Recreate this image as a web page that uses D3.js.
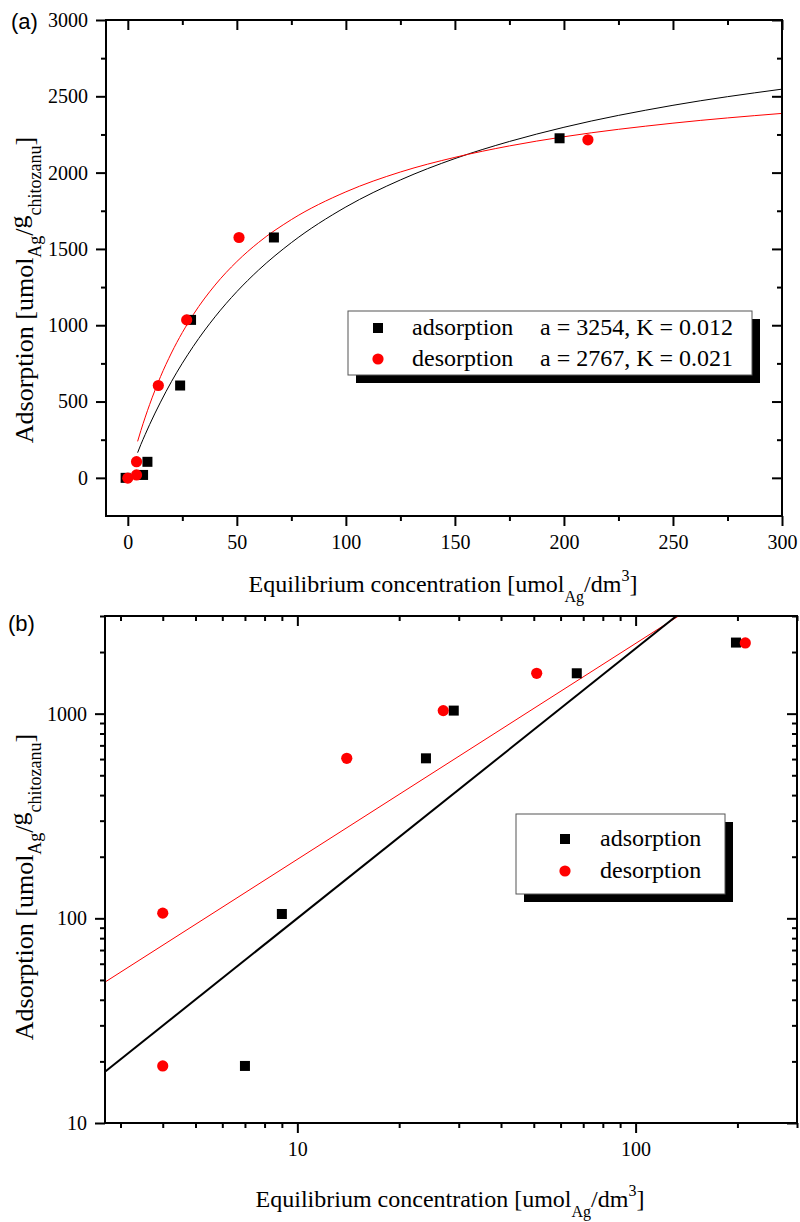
<!DOCTYPE html>
<html>
<head>
<meta charset="utf-8">
<script src="https://cdn.jsdelivr.net/npm/d3@7"></script>
<style>
  body { margin: 0; background: #fff; }
  svg text { font-family: "Liberation Serif", "DejaVu Serif", serif; fill: #000; }
  svg text.tag { font-family: "Liberation Sans", Arial, sans-serif; }
</style>
</head>
<body>
<div id="chart"></div>
<script>
var adsConc = [-1, 7, 9, 24, 29, 67, 198];
var adsAmount = [0, 19, 105, 605, 1035, 1575, 2225];
var desConc = [0, 4, 4, 14, 27, 51, 211];
var desAmount = [-2, 19, 106, 605, 1035, 1575, 2215];

// isotherm fit curves in panel (a)
var fitConc = [4.5, 6, 8, 10, 15, 20, 30, 40, 50, 60, 75, 100, 125, 150, 175, 200, 250, 300];
var fitAds = [165, 219, 285, 349, 496, 630, 861, 1055, 1220, 1362, 1541, 1775, 1952, 2092, 2204, 2297, 2441, 2547];
var fitDes = [239, 310, 398, 480, 663, 818, 1069, 1263, 1417, 1543, 1692, 1874, 2004, 2100, 2175, 2235, 2324, 2388];

// straight fits in panel (b), end points
var logFitAdsConc = [2.7, 132];
var logFitAdsAmount = [17.8, 3000];
var logFitDesConc = [2.7, 134];
var logFitDesAmount = [48.8, 3000];

// ticks
var linXTicks = [0, 50, 100, 150, 200, 250, 300];
var linXMinor = [25, 75, 125, 175, 225, 275];
var linYTicks = [0, 500, 1000, 1500, 2000, 2500, 3000];
var linYMinor = [250, 750, 1250, 1750, 2250, 2750];
var logXTicks = [10, 100];
var logXMinor = [3, 4, 5, 6, 7, 8, 9, 20, 30, 40, 50, 60, 70, 80, 90, 200, 300];
var logYTicks = [10, 100, 1000];
var logYMinor = [20, 30, 40, 50, 60, 70, 80, 90, 200, 300, 400, 500, 600, 700, 800, 900, 2000, 3000];

var seriesNames = ["adsorption", "desorption"];
var fitParams = ["a = 3254, K = 0.012", "a = 2767, K = 0.021"];
var seriesColors = ["#000000", "#ff0000"];

var serif = "'Liberation Serif', 'DejaVu Serif', serif";

var W = 800, H = 1222;
var svg = d3.select("#chart").append("svg")
  .attr("width", W)
  .attr("height", H);

// zip two arrays into points
function pts(xs, ys) {
  return xs.map(function (d, i) { return [d, ys[i]]; });
}

// frame + ticks on all four sides (bottom/left outward, top/right inward)
function drawAxes(g, x, y, w, h, xt, xm, yt, ym, fmt) {
  function style(a) {
    a.attr("font-family", serif);
    a.select(".domain").remove();
    a.selectAll(".tick line").attr("stroke", "#000").attr("stroke-width", 2);
    a.selectAll(".tick text")
      .style("font-family", serif)
      .attr("font-size", "20px")
      .attr("fill", "#000");
  }
  g.append("g").attr("transform", "translate(0," + h + ")")
    .call(d3.axisBottom(x).tickValues(xt).tickSize(10).tickPadding(9).tickFormat(fmt)).call(style);
  g.append("g").attr("transform", "translate(0," + h + ")")
    .call(d3.axisBottom(x).tickValues(xm).tickSize(5).tickFormat("")).call(style);
  g.append("g")
    .call(d3.axisTop(x).tickValues(xt).tickSize(-10).tickFormat("")).call(style);
  g.append("g")
    .call(d3.axisTop(x).tickValues(xm).tickSize(-5).tickFormat("")).call(style);
  g.append("g")
    .call(d3.axisLeft(y).tickValues(yt).tickSize(10).tickPadding(8).tickFormat(fmt)).call(style);
  g.append("g")
    .call(d3.axisLeft(y).tickValues(ym).tickSize(5).tickFormat("")).call(style);
  g.append("g").attr("transform", "translate(" + w + ",0)")
    .call(d3.axisRight(y).tickValues(yt).tickSize(-10).tickFormat("")).call(style);
  g.append("g").attr("transform", "translate(" + w + ",0)")
    .call(d3.axisRight(y).tickValues(ym).tickSize(-5).tickFormat("")).call(style);
  g.append("rect")
    .attr("width", w).attr("height", h)
    .attr("fill", "none").attr("stroke", "#000").attr("stroke-width", 2);
}

function drawMarkers(g, x, y, data, kind, color) {
  if (kind === "square") {
    g.selectAll(null).data(data).enter().append("rect")
      .attr("x", function (d) { return x(d[0]) - 5; })
      .attr("y", function (d) { return y(d[1]) - 5; })
      .attr("width", 10).attr("height", 10)
      .attr("fill", color);
  } else {
    g.selectAll(null).data(data).enter().append("circle")
      .attr("cx", function (d) { return x(d[0]); })
      .attr("cy", function (d) { return y(d[1]); })
      .attr("r", 5.6)
      .attr("fill", color);
  }
}

function xTitle(x0, y0) {
  var t = svg.append("text")
    .attr("x", x0).attr("y", y0)
    .attr("text-anchor", "middle")
    .style("font-size", "24px");
  t.append("tspan").text("Equilibrium concentration [umol");
  t.append("tspan").attr("dy", 10).style("font-size", "16px").text("Ag");
  t.append("tspan").attr("dy", -10).text("/dm");
  t.append("tspan").attr("dy", -11).style("font-size", "16px").text("3");
  t.append("tspan").attr("dy", 11).text("]");
}

function yTitle(x0, y0) {
  var t = svg.append("text")
    .attr("transform", "translate(" + x0 + "," + y0 + ") rotate(-90)")
    .attr("text-anchor", "middle")
    .style("font-size", "26px");
  t.append("tspan").text("Adsorption [umol");
  t.append("tspan").attr("dy", 8).style("font-size", "18px").text("Ag");
  t.append("tspan").attr("dy", -8).text("/");
  t.append("tspan").attr("dy", -6).text("g");
  t.append("tspan").attr("dy", 14).style("font-size", "18px").text("chitozanu");
  t.append("tspan").attr("dy", -8).text("]");
}

function legend(x0, y0, w, h, symX, rowY, textX, withParams) {
  var lg = svg.append("g");
  lg.append("rect").attr("x", x0 + 8).attr("y", y0 + 8)
    .attr("width", w).attr("height", h).attr("fill", "#000");
  lg.append("rect").attr("x", x0).attr("y", y0)
    .attr("width", w).attr("height", h)
    .attr("fill", "#fff").attr("stroke", "#555").attr("stroke-width", 1);
  seriesNames.forEach(function (name, i) {
    if (i === 0) {
      lg.append("rect").attr("x", symX - 5).attr("y", rowY[i] - 5)
        .attr("width", 10).attr("height", 10).attr("fill", seriesColors[i]);
    } else {
      lg.append("circle").attr("cx", symX).attr("cy", rowY[i])
        .attr("r", 5.6).attr("fill", seriesColors[i]);
    }
    lg.append("text").attr("x", textX).attr("y", rowY[i] + 7)
      .style("font-size", "24px").text(name);
    if (withParams) {
      lg.append("text").attr("x", textX + 128).attr("y", rowY[i] + 7)
        .style("font-size", "24px").text(fitParams[i]);
    }
  });
}

// ---------- panel (a): linear axes ----------
var A = {left: 106, top: 20, w: 676, h: 496};
var xa = d3.scaleLinear().domain([-10, 300]).range([0, A.w]);
var ya = d3.scaleLinear().domain([-250, 3000]).range([A.h, 0]);
var ga = svg.append("g").attr("transform", "translate(" + A.left + "," + A.top + ")");

ga.append("clipPath").attr("id", "clipA").append("rect").attr("width", A.w).attr("height", A.h);

var lineA = d3.line()
  .x(function (d) { return xa(d[0]); })
  .y(function (d) { return ya(d[1]); })
  .curve(d3.curveMonotoneX);

ga.append("path").attr("d", lineA(pts(fitConc, fitAds)))
  .attr("fill", "none").attr("stroke", "#000").attr("stroke-width", 1)
  .attr("clip-path", "url(#clipA)");
ga.append("path").attr("d", lineA(pts(fitConc, fitDes)))
  .attr("fill", "none").attr("stroke", "#ff0000").attr("stroke-width", 1)
  .attr("clip-path", "url(#clipA)");

drawMarkers(ga, xa, ya, pts(adsConc, adsAmount), "square", "#000");
drawMarkers(ga, xa, ya, pts(desConc, desAmount), "circle", "#ff0000");
drawAxes(ga, xa, ya, A.w, A.h, linXTicks, linXMinor, linYTicks, linYMinor, d3.format("d"));

svg.append("text").attr("class", "tag").attr("x", 11).attr("y", 29)
  .style("font-size", "22px").text("(a)");
xTitle(443, 592);
yTitle(33, 290);
legend(348, 311, 404, 64, 378, [328, 359], 412, true);

// ---------- panel (b): log-log axes ----------
var B = {left: 105, top: 616, w: 692, h: 507};
var xb = d3.scaleLog().domain([2.7, 300]).range([0, B.w]);
var yb = d3.scaleLog().domain([10, 3000]).range([B.h, 0]);
var gb = svg.append("g").attr("transform", "translate(" + B.left + "," + B.top + ")");

gb.append("clipPath").attr("id", "clipB").append("rect").attr("width", B.w).attr("height", B.h);

var lineB = d3.line()
  .x(function (d) { return xb(d[0]); })
  .y(function (d) { return yb(d[1]); });

gb.append("path").attr("d", lineB(pts(logFitDesConc, logFitDesAmount)))
  .attr("fill", "none").attr("stroke", "#ff0000").attr("stroke-width", 1)
  .attr("clip-path", "url(#clipB)");
gb.append("path").attr("d", lineB(pts(logFitAdsConc, logFitAdsAmount)))
  .attr("fill", "none").attr("stroke", "#000").attr("stroke-width", 2)
  .attr("clip-path", "url(#clipB)");

// zeros cannot be shown on a log scale
function positive(d) { return d[0] > 0 && d[1] > 0; }
drawMarkers(gb, xb, yb, pts(adsConc, adsAmount).filter(positive), "square", "#000");
drawMarkers(gb, xb, yb, pts(desConc, desAmount).filter(positive), "circle", "#ff0000");
drawAxes(gb, xb, yb, B.w, B.h, logXTicks, logXMinor, logYTicks, logYMinor, d3.format("d"));

svg.append("text").attr("class", "tag").attr("x", 8).attr("y", 631)
  .style("font-size", "22px").text("(b)");
xTitle(450, 1207);
yTitle(33, 887);
legend(516, 814, 209, 80, 565, [839, 871], 600, false);
</script>
</body>
</html>
